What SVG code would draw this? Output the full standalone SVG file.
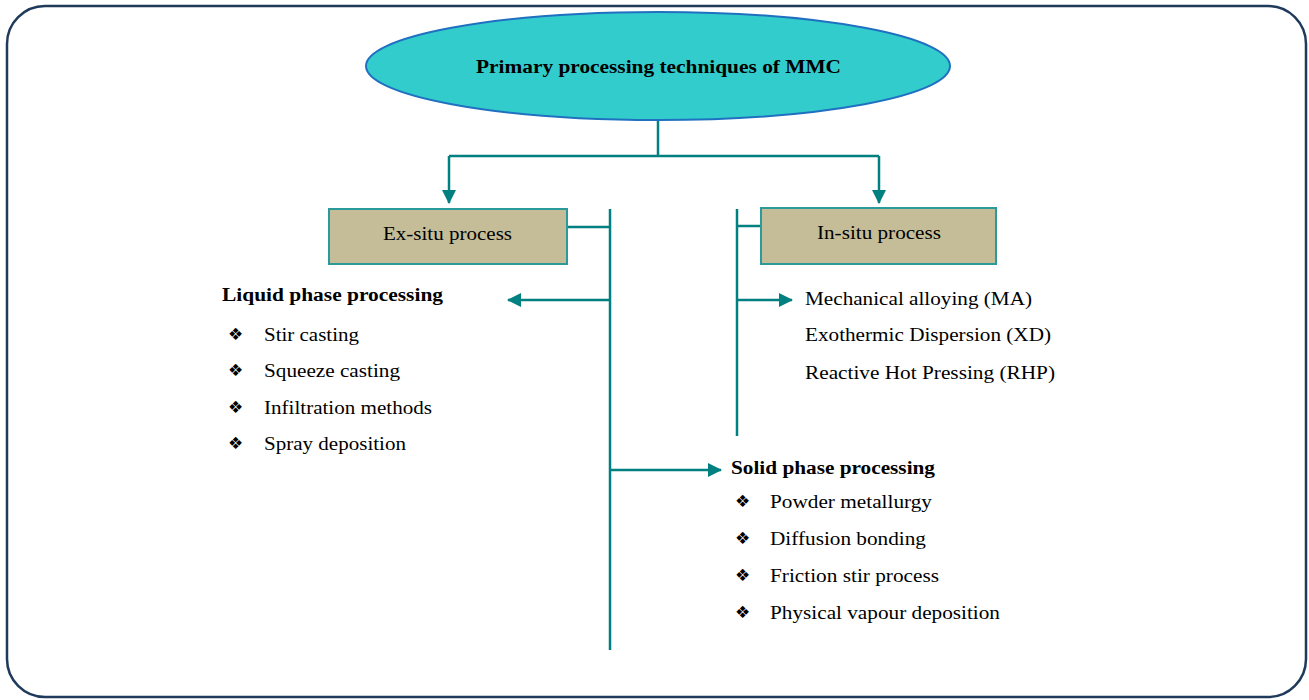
<svg xmlns="http://www.w3.org/2000/svg" width="1309" height="700" viewBox="0 0 1309 700">
<defs>
<marker id="ah" markerWidth="14" markerHeight="14" refX="13" refY="7" orient="auto" markerUnits="userSpaceOnUse" viewBox="0 0 14 14">
<path d="M0,0 L14,7 L0,14 z" fill="#008080"/>
</marker>
<style>
.t{font-family:"Liberation Serif","Times New Roman",serif;font-size:18.5px;fill:#000}
.b{font-weight:bold}
.bul{font-family:"DejaVu Sans",sans-serif;font-size:17px;fill:#000}
.ln{stroke:#008080;stroke-width:2.5;fill:none}
.box{fill:#c4bd97;stroke:#2a9a9a;stroke-width:2}
</style>
</defs>
<rect x="7" y="6" width="1299" height="691" rx="38" ry="38" fill="#fff" stroke="#1f3a5a" stroke-width="2.5"/>
<g id="connectors">
<path class="ln" d="M658,120 V156"/>
<path class="ln" d="M449,156 H879"/>
<path class="ln" d="M449,156 V203" marker-end="url(#ah)"/>
<path class="ln" d="M879,156 V203" marker-end="url(#ah)"/>
<path class="ln" d="M610,209 V650"/>
<path class="ln" d="M567,227 H610"/>
<path class="ln" d="M610,300 H508" marker-end="url(#ah)"/>
<path class="ln" d="M610,470 H721" marker-end="url(#ah)"/>
<path class="ln" d="M737,209 V436"/>
<path class="ln" d="M737,226 H761"/>
<path class="ln" d="M737,300 H792" marker-end="url(#ah)"/>
</g>
<g id="root">
<ellipse cx="658" cy="66" rx="292" ry="54" fill="#33cccc" stroke="#1f70c0" stroke-width="2"/>
<text class="t b" x="476" y="73" textLength="365" lengthAdjust="spacingAndGlyphs">Primary processing techniques of MMC</text>
</g>
<g id="exsitu">
<rect class="box" x="329" y="209" width="238" height="55"/>
<text class="t" x="383" y="240" textLength="129" lengthAdjust="spacingAndGlyphs">Ex-situ process</text>
</g>
<g id="insitu">
<rect class="box" x="761" y="208" width="235" height="56"/>
<text class="t" x="817" y="239" textLength="124" lengthAdjust="spacingAndGlyphs">In-situ process</text>
</g>
<g id="liquid">
<text class="t b" x="222" y="301" textLength="221" lengthAdjust="spacingAndGlyphs">Liquid phase processing</text>
<text class="bul" x="228" y="340">❖</text><text class="t" x="264" y="341" textLength="95" lengthAdjust="spacingAndGlyphs">Stir casting</text>
<text class="bul" x="228" y="376">❖</text><text class="t" x="264" y="377" textLength="136" lengthAdjust="spacingAndGlyphs">Squeeze casting</text>
<text class="bul" x="228" y="413">❖</text><text class="t" x="264" y="414" textLength="168" lengthAdjust="spacingAndGlyphs">Infiltration methods</text>
<text class="bul" x="228" y="449">❖</text><text class="t" x="264" y="450" textLength="142" lengthAdjust="spacingAndGlyphs">Spray deposition</text>
</g>
<g id="insitu-list">
<text class="t" x="805" y="305" textLength="227" lengthAdjust="spacingAndGlyphs">Mechanical alloying (MA)</text>
<text class="t" x="805" y="341" textLength="246" lengthAdjust="spacingAndGlyphs">Exothermic Dispersion (XD)</text>
<text class="t" x="805" y="379" textLength="250" lengthAdjust="spacingAndGlyphs">Reactive Hot Pressing (RHP)</text>
</g>
<g id="solid">
<text class="t b" x="731" y="474" textLength="204" lengthAdjust="spacingAndGlyphs">Solid phase processing</text>
<text class="bul" x="735" y="507">❖</text><text class="t" x="770" y="508" textLength="162" lengthAdjust="spacingAndGlyphs">Powder metallurgy</text>
<text class="bul" x="735" y="544">❖</text><text class="t" x="770" y="545" textLength="156" lengthAdjust="spacingAndGlyphs">Diffusion bonding</text>
<text class="bul" x="735" y="581">❖</text><text class="t" x="770" y="582" textLength="169" lengthAdjust="spacingAndGlyphs">Friction stir process</text>
<text class="bul" x="735" y="618">❖</text><text class="t" x="770" y="619" textLength="230" lengthAdjust="spacingAndGlyphs">Physical vapour deposition</text>
</g>
</svg>
